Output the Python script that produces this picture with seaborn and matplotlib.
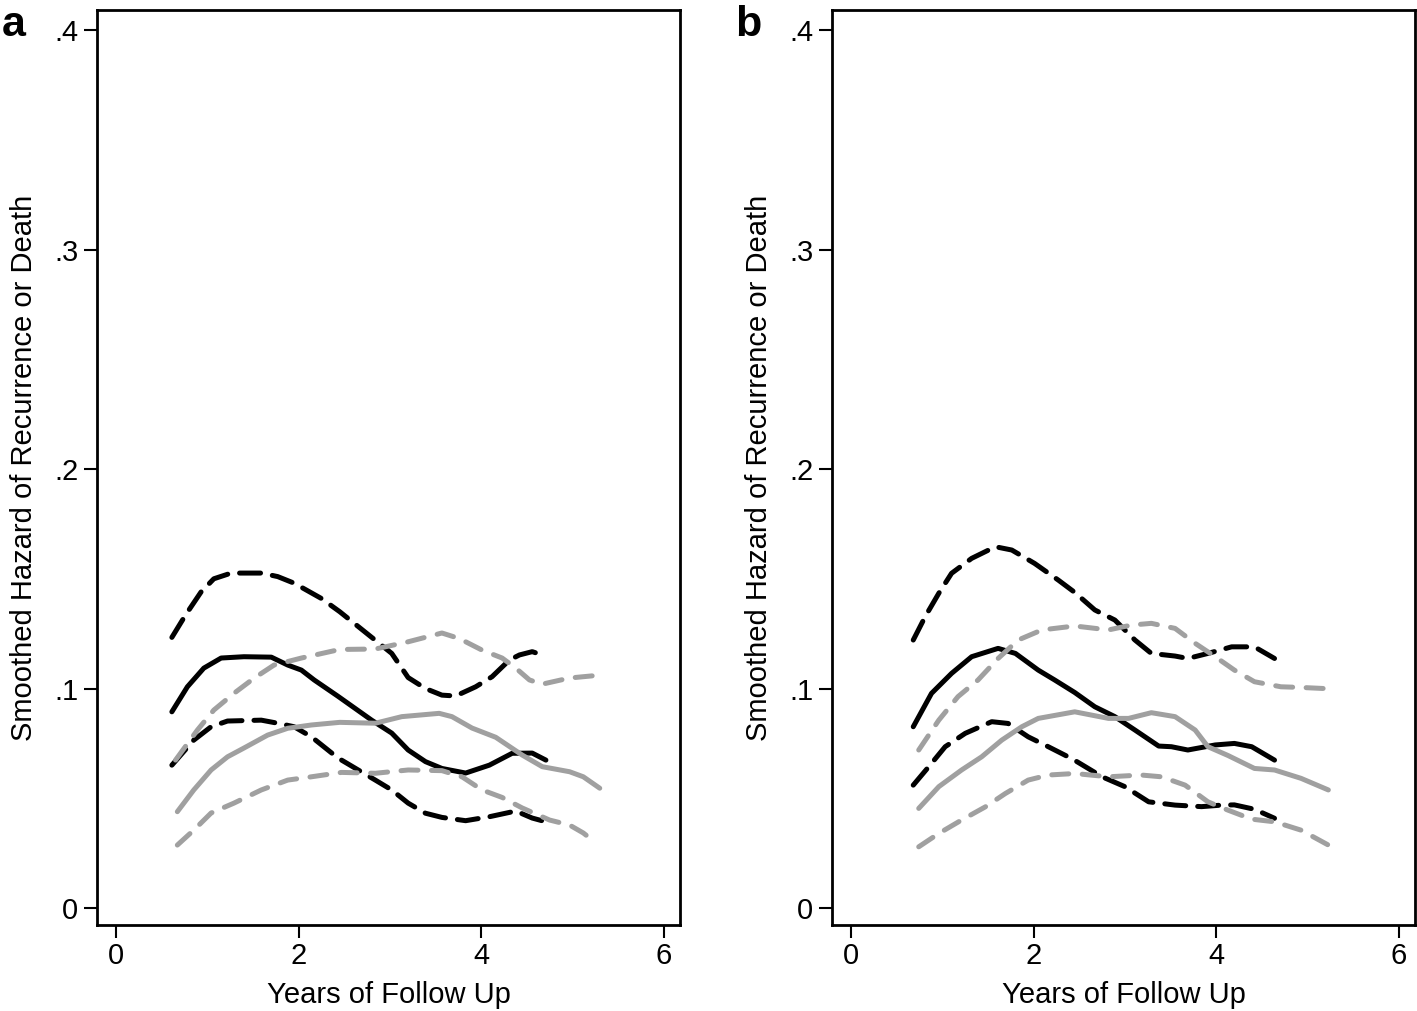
import matplotlib
matplotlib.use('Agg')

import numpy as np
import pandas as pd
import matplotlib.pyplot as plt
import seaborn as sns

# panel a ------------------------------------------------------------
a_black_mid_x = [0.61, 0.78, 0.96, 1.15, 1.40, 1.70, 1.88, 2.03, 2.17, 2.43, 2.80, 3.02, 3.20, 3.39, 3.57, 3.83, 4.09, 4.34, 4.56, 4.71]
a_black_mid_y = [0.0894, 0.1008, 0.1093, 0.1139, 0.1145, 0.1143, 0.1107, 0.1084, 0.1039, 0.0965, 0.0856, 0.0797, 0.0720, 0.0667, 0.0636, 0.0615, 0.0651, 0.0705, 0.0706, 0.0674]

a_black_hi_x = [0.61, 0.76, 0.93, 1.07, 1.26, 1.59, 1.77, 1.95, 2.25, 2.45, 2.84, 3.02, 3.20, 3.39, 3.57, 3.72, 3.94, 4.12, 4.31, 4.42, 4.56, 4.67]
a_black_hi_y = [0.1233, 0.1335, 0.1440, 0.1500, 0.1526, 0.1526, 0.1510, 0.1480, 0.1410, 0.1350, 0.1220, 0.1160, 0.1050, 0.1000, 0.0970, 0.0966, 0.1008, 0.1054, 0.1130, 0.1153, 0.1168, 0.1153]

a_black_lo_x = [0.61, 0.85, 1.04, 1.22, 1.59, 1.77, 1.95, 2.14, 2.39, 2.47, 2.84, 3.02, 3.20, 3.39, 3.57, 3.83, 4.09, 4.38, 4.56, 4.71]
a_black_lo_y = [0.0651, 0.0765, 0.0826, 0.0852, 0.0856, 0.0842, 0.0826, 0.0780, 0.0697, 0.0674, 0.0583, 0.0538, 0.0478, 0.0432, 0.0413, 0.0398, 0.0416, 0.0442, 0.0410, 0.0393]

a_gray_mid_x = [0.67, 0.85, 1.04, 1.22, 1.40, 1.66, 1.88, 2.14, 2.45, 2.84, 3.13, 3.54, 3.68, 3.90, 4.16, 4.45, 4.67, 4.97, 5.12, 5.30]
a_gray_mid_y = [0.0439, 0.0538, 0.0629, 0.0689, 0.0729, 0.0788, 0.0819, 0.0834, 0.0846, 0.0842, 0.0872, 0.0887, 0.0872, 0.0820, 0.0778, 0.0697, 0.0644, 0.0621, 0.0598, 0.0546]

a_gray_hi_x = [0.65, 0.89, 1.07, 1.29, 1.51, 1.73, 2.03, 2.45, 2.84, 3.20, 3.57, 3.76, 4.01, 4.23, 4.38, 4.53, 4.67, 4.97, 5.30]
a_gray_hi_y = [0.0674, 0.0811, 0.0902, 0.0978, 0.1047, 0.1107, 0.1139, 0.1178, 0.1180, 0.1213, 0.1253, 0.1228, 0.1175, 0.1139, 0.1093, 0.1039, 0.1020, 0.1048, 0.1061]

a_gray_lo_x = [0.67, 0.85, 1.04, 1.29, 1.59, 1.88, 2.14, 2.47, 2.84, 3.20, 3.57, 3.79, 4.01, 4.23, 4.45, 4.75, 4.97, 5.12, 5.26]
a_gray_lo_y = [0.0287, 0.0355, 0.0433, 0.0478, 0.0538, 0.0583, 0.0598, 0.0618, 0.0614, 0.0629, 0.0626, 0.0598, 0.0538, 0.0504, 0.0456, 0.0401, 0.0378, 0.0342, 0.0296]

# panel b ------------------------------------------------------------
b_black_mid_x = [0.68, 0.88, 1.10, 1.32, 1.61, 1.80, 2.05, 2.23, 2.45, 2.67, 2.89, 3.11, 3.37, 3.51, 3.69, 3.99, 4.20, 4.39, 4.64]
b_black_mid_y = [0.0826, 0.0978, 0.1069, 0.1145, 0.1183, 0.1160, 0.1084, 0.1039, 0.0982, 0.0917, 0.0872, 0.0811, 0.0738, 0.0735, 0.0720, 0.0743, 0.0750, 0.0735, 0.0674]

b_black_hi_x = [0.68, 0.81, 0.96, 1.10, 1.32, 1.58, 1.76, 2.01, 2.27, 2.45, 2.67, 2.89, 3.11, 3.29, 3.55, 3.69, 3.91, 4.17, 4.42, 4.64]
b_black_hi_y = [0.1221, 0.1327, 0.1434, 0.1525, 0.1593, 0.1646, 0.1631, 0.1570, 0.1494, 0.1438, 0.1358, 0.1312, 0.1221, 0.1160, 0.1148, 0.1137, 0.1160, 0.1190, 0.1190, 0.1137]

b_black_lo_x = [0.68, 0.85, 1.03, 1.25, 1.54, 1.72, 1.94, 2.16, 2.43, 2.75, 3.00, 3.26, 3.55, 3.84, 4.06, 4.20, 4.42, 4.64]
b_black_lo_y = [0.0560, 0.0644, 0.0735, 0.0796, 0.0849, 0.0841, 0.0780, 0.0735, 0.0678, 0.0598, 0.0553, 0.0484, 0.0469, 0.0462, 0.0469, 0.0470, 0.0450, 0.0409]

b_gray_mid_x = [0.74, 0.96, 1.21, 1.43, 1.65, 1.87, 2.05, 2.45, 2.82, 3.04, 3.29, 3.55, 3.77, 3.91, 4.13, 4.42, 4.64, 4.93, 5.23]
b_gray_mid_y = [0.0454, 0.0553, 0.0629, 0.0689, 0.0765, 0.0826, 0.0864, 0.0894, 0.0864, 0.0864, 0.0890, 0.0872, 0.0811, 0.0735, 0.0695, 0.0636, 0.0629, 0.0591, 0.0538]

b_gray_hi_x = [0.74, 0.96, 1.17, 1.39, 1.61, 1.83, 2.09, 2.45, 2.82, 3.07, 3.29, 3.55, 3.77, 3.99, 4.20, 4.42, 4.71, 4.93, 5.19]
b_gray_hi_y = [0.0720, 0.0856, 0.0963, 0.1039, 0.1137, 0.1221, 0.1267, 0.1285, 0.1267, 0.1289, 0.1297, 0.1274, 0.1206, 0.1145, 0.1084, 0.1031, 0.1008, 0.1005, 0.1000]

b_gray_lo_x = [0.74, 0.96, 1.21, 1.47, 1.69, 1.94, 2.16, 2.45, 2.82, 3.18, 3.40, 3.66, 3.91, 4.13, 4.39, 4.64, 4.93, 5.23]
b_gray_lo_y = [0.0279, 0.0340, 0.0401, 0.0461, 0.0522, 0.0583, 0.0606, 0.0613, 0.0598, 0.0606, 0.0598, 0.0560, 0.0484, 0.0446, 0.0405, 0.0393, 0.0355, 0.0287]

x_ticks = [0, 2, 4, 6]
y_ticks = [0, 0.1, 0.2, 0.3, 0.4]
y_tick_labels = ['0', '.1', '.2', '.3', '.4']
x_label = 'Years of Follow Up'
y_label = 'Smoothed Hazard of Recurrence or Death'

BLACK = '#000000'
GRAY = '#a0a0a0'
DASH_BLACK = (0, (4.2, 2.4))
DASH_GRAY = (0, (3.4, 2.7))

panels = {
    'a': [
        (a_black_mid_x, a_black_mid_y, BLACK, '-'),
        (a_black_hi_x, a_black_hi_y, BLACK, DASH_BLACK),
        (a_black_lo_x, a_black_lo_y, BLACK, DASH_BLACK),
        (a_gray_mid_x, a_gray_mid_y, GRAY, '-'),
        (a_gray_hi_x, a_gray_hi_y, GRAY, DASH_GRAY),
        (a_gray_lo_x, a_gray_lo_y, GRAY, DASH_GRAY),
    ],
    'b': [
        (b_black_mid_x, b_black_mid_y, BLACK, '-'),
        (b_black_hi_x, b_black_hi_y, BLACK, DASH_BLACK),
        (b_black_lo_x, b_black_lo_y, BLACK, DASH_BLACK),
        (b_gray_mid_x, b_gray_mid_y, GRAY, '-'),
        (b_gray_hi_x, b_gray_hi_y, GRAY, DASH_GRAY),
        (b_gray_lo_x, b_gray_lo_y, GRAY, DASH_GRAY),
    ],
}

sns.set_style('ticks')
plt.rcParams['font.family'] = ['Liberation Sans', 'DejaVu Sans']
plt.rcParams['text.color'] = 'black'
plt.rcParams['axes.labelcolor'] = 'black'
plt.rcParams['xtick.color'] = 'black'
plt.rcParams['ytick.color'] = 'black'

fig = plt.figure(figsize=(14.17, 10.11), dpi=100)
axes = {
    'a': fig.add_axes([0.0685, 0.0851, 0.4114, 0.905]),
    'b': fig.add_axes([0.5872, 0.0851, 0.4114, 0.905]),
}

for key, ax in axes.items():
    for xs, ys, col, ls in panels[key]:
        sns.lineplot(x=xs, y=ys, ax=ax, color=col, linestyle=ls, lw=3.6,
                     estimator=None, sort=False, legend=False,
                     solid_capstyle='round', dash_capstyle='round',
                     solid_joinstyle='round', dash_joinstyle='round')

    ax.set_xlim(-0.21, 6.18)
    ax.set_ylim(-0.0077, 0.4091)
    ax.set_xticks(x_ticks)
    ax.set_xticklabels([str(t) for t in x_ticks])
    ax.set_yticks(y_ticks)
    ax.set_yticklabels(y_tick_labels)
    ax.tick_params(axis='both', direction='out', length=9.5, width=1.5,
                   color='black', labelsize=21, labelcolor='black')
    ax.tick_params(axis='x', pad=3)
    ax.tick_params(axis='y', pad=4)
    for sp in ax.spines.values():
        sp.set_visible(True)
        sp.set_linewidth(2)
        sp.set_color('black')

    ax.set_xlabel(x_label, fontsize=21, color='black')
    ax.set_ylabel(y_label, fontsize=21, color='black')
    ax.xaxis.set_label_coords(0.5, -0.061)
    ax.yaxis.set_label_coords(-0.101, 0.5)

fig.text(2 / 1417, 1 - 36 / 1011, 'a', fontsize=31, fontweight='bold',
         va='baseline', ha='left', color='black')
fig.text(735 / 1417, 1 - 36 / 1011, 'b', fontsize=31, fontweight='bold',
         va='baseline', ha='left', color='black')

fig.savefig('out.png', dpi=100)
